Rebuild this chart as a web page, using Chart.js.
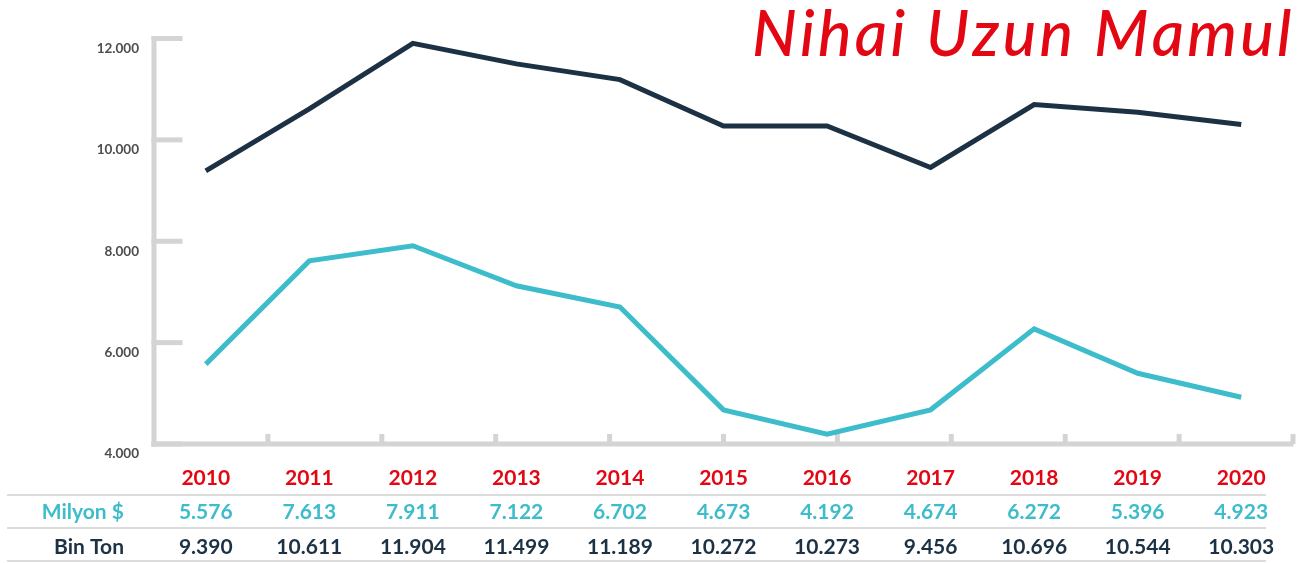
<!DOCTYPE html>
<html>
<head>
<meta charset="utf-8">
<script src="https://cdn.jsdelivr.net/npm/chart.js@4/dist/chart.umd.min.js"></script>
<style>
html,body{margin:0;padding:0;background:#fff;}
#wrap{position:relative;width:1316px;height:563px;}
</style>
</head>
<body>
<div id="wrap"><canvas id="c" width="1316" height="563"></canvas></div>
<script>
const years = ['2010','2011','2012','2013','2014','2015','2016','2017','2018','2019','2020'];
const milyonUSD = [5576,7613,7911,7122,6702,4673,4192,4674,6272,5396,4923];
const binTon = [9390,10611,11904,11499,11189,10272,10273,9456,10696,10544,10303];
const yTicks = [4000,6000,8000,10000,12000];
const titleText = 'Nihai Uzun Mamul';
const rowLabels = ['Milyon $','Bin Ton'];

const C_TEAL = '#3dbccb', C_DARK = '#1c3143', C_RED = '#e30613', C_AXIS = '#d4d4d4', C_GRID = '#dcdcdc';

function fmt(n){ return String(n).replace(/\B(?=(\d{3})+(?!\d))/g,'.'); }

const deco = {
  id:'deco',
  beforeDatasetsDraw(chart){
    const ctx = chart.ctx, ca = chart.chartArea, y = chart.scales.y;
    const L = ca.left, R = ca.right, B = y.getPixelForValue(4000);
    ctx.save();
    ctx.fillStyle = C_AXIS;
    const top = y.getPixelForValue(12000);
    ctx.fillRect(L-2.5, top-2.5, 5, B-top+5);
    yTicks.forEach(v=>{ const p=y.getPixelForValue(v); ctx.fillRect(L-2.5, p-2.5, 31, 5); });
    ctx.fillRect(L-2.5, B-2.5, R-L+3, 5);
    for(let k=1;k<=10;k++){ const px = L + (R-L)*k/10; ctx.fillRect(Math.min(px,R)-2.5, B-10, 5, 10); }
    ctx.restore();
  },
  afterDraw(chart){
    const ctx = chart.ctx, x = chart.scales.x, y = chart.scales.y;
    ctx.save();
    ctx.font = 'bold 13.5px Lato';
    ctx.fillStyle = '#4d4d4d';
    ctx.textAlign = 'right'; ctx.textBaseline = 'middle';
    yTicks.forEach(v=>{ ctx.fillText(fmt(v), 139, y.getPixelForValue(v)+10); });
    ctx.textAlign = 'center';
    ctx.font = 'bold 21px Lato';
    years.forEach((yr,i)=>{ ctx.fillStyle=C_RED; ctx.fillText(yr, x.getPixelForValue(i), 478); });
    milyonUSD.forEach((v,i)=>{ ctx.fillStyle=C_TEAL; ctx.fillText(fmt(v), x.getPixelForValue(i), 512); });
    binTon.forEach((v,i)=>{ ctx.fillStyle=C_DARK; ctx.fillText(fmt(v), x.getPixelForValue(i), 547); });
    ctx.textAlign = 'right';
    ctx.fillStyle = C_TEAL; ctx.fillText(rowLabels[0], 124, 512);
    ctx.fillStyle = C_DARK; ctx.fillText(rowLabels[1], 124, 547);
    ctx.fillStyle = C_GRID;
    [495,528,561].forEach(py=>ctx.fillRect(7, py-1, 1259, 2));
    // title
    ctx.fillStyle = C_RED;
    ctx.font = 'italic 500 63px Lato';
    ctx.textAlign = 'left'; ctx.textBaseline = 'alphabetic';
    const baseW = ctx.measureText(titleText).width;
    const targetW = 1289 - 752;
    const ls = (targetW - baseW) / (titleText.length - 1);
    let cx = 752;
    for (const ch of titleText){ ctx.fillText(ch, cx, 56); cx += ctx.measureText(ch).width + ls; }
    ctx.restore();
  }
};

new Chart(document.getElementById('c'), {
  type:'line',
  data:{
    labels: years,
    datasets:[
      {label:'Bin Ton', data: binTon, borderColor: C_DARK, borderWidth:5, pointRadius:0, tension:0, fill:false, clip:false},
      {label:'Milyon $', data: milyonUSD, borderColor: C_TEAL, borderWidth:5, pointRadius:0, tension:0, fill:false, clip:false}
    ]
  },
  options:{
    responsive:false, animation:false, devicePixelRatio:1,
    layout:{padding:{left:154, right:23, top:38.5, bottom:119}},
    plugins:{legend:{display:false}, tooltip:{enabled:false}, title:{display:false}},
    scales:{
      x:{type:'category', offset:true, display:false},
      y:{min:4000, max:12000, display:false}
    }
  },
  plugins:[deco]
});
</script>
</body>
</html>
